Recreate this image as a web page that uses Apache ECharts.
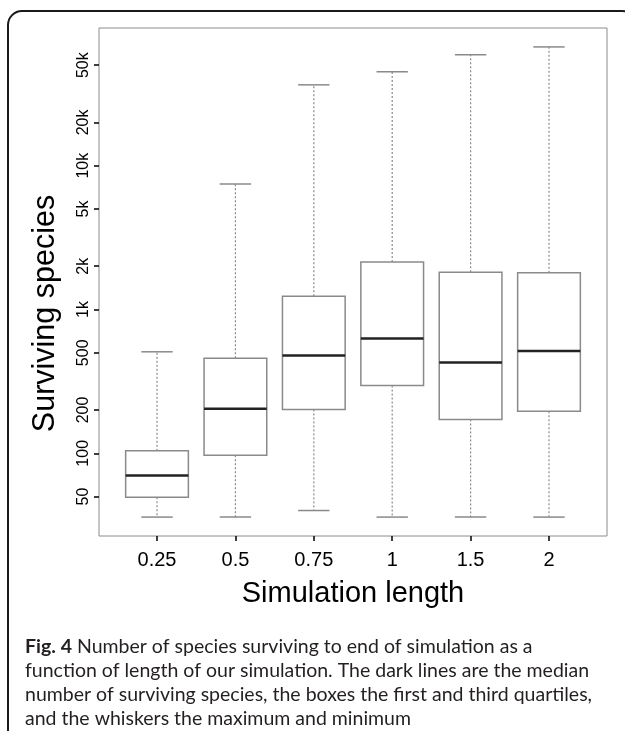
<!DOCTYPE html>
<html>
<head>
<meta charset="utf-8">
<script src="https://cdn.jsdelivr.net/npm/echarts@6/dist/echarts.min.js"></script>
<style>
html,body{margin:0;padding:0;background:#fff;}
#main{width:625px;height:731px;}
</style>
</head>
<body>
<div id="main"></div>
<script>
// ---- data ----
var categories = ['0.25', '0.5', '0.75', '1', '1.5', '2'];
var minValues    = [36, 36, 40, 36, 36, 36];
var q1Values     = [49.5, 97, 202, 296, 172, 196];
var medianValues = [70, 204, 479, 629, 428, 514];
var q3Values     = [104, 459, 1237, 2140, 1815, 1800];
var maxValues    = [508, 7460, 36500, 45000, 59000, 67000];
var yTickValues  = [50, 100, 200, 500, 1000, 2000, 5000, 10000, 20000, 50000];
var xTickValues  = [1, 2, 3, 4, 5, 6];

var captionLines = [
  '{b|Fig. 4} Number of species surviving to end of simulation as a',
  'function of length of our simulation. The dark lines are the median',
  'number of surviving species, the boxes the first and third quartiles,',
  'and the whiskers the maximum and minimum'
];

var seriesData = categories.map(function (c, i) {
  return [i + 1, minValues[i], q1Values[i], medianValues[i], q3Values[i], maxValues[i]];
});

function fmtY(v) {
  if (v >= 1000) return (v / 1000) + 'k';
  return String(v);
}

var chart = echarts.init(document.getElementById('main'), null, {renderer: 'canvas'});

var option = {
  backgroundColor: '#fff',
  animation: false,
  title: {
    text: captionLines.join('\n'),
    left: 20,
    top: 630,
    textStyle: {
      fontFamily: 'Lato',
      fontSize: 19.5,
      fontWeight: 'normal',
      color: '#231f20',
      lineHeight: 24,
      rich: {
        b: {fontFamily: 'Lato', fontSize: 19.5, fontWeight: 'bold', color: '#231f20', lineHeight: 24}
      }
    }
  },
  graphic: [{
    type: 'rect',
    shape: {x: 8, y: 11, width: 628, height: 800, r: 14},
    style: {fill: 'none', stroke: '#1a1a1a', lineWidth: 2},
    silent: true
  }],
  grid: {
    left: 99, right: 18, top: 28, bottom: 195,
    show: true, borderColor: '#8c8c8c', borderWidth: 1, backgroundColor: 'transparent'
  },
  xAxis: {
    type: 'value',
    min: 0.26, max: 6.74,
    name: 'Simulation length',
    nameLocation: 'middle',
    nameGap: 43,
    nameTextStyle: {fontFamily: 'Liberation Sans', fontSize: 29, color: '#000'},
    axisLine: {show: false},
    splitLine: {show: false},
    axisTick: {show: true, inside: false, length: 5, customValues: xTickValues, lineStyle: {color: '#000', width: 1.5}},
    axisLabel: {
      customValues: xTickValues,
      margin: 14,
      fontFamily: 'Liberation Sans', fontSize: 20, color: '#000',
      formatter: function (v) { return categories[Math.round(v) - 1]; }
    }
  },
  yAxis: {
    type: 'log',
    logBase: 10,
    min: 26.6, max: 90700,
    name: 'Surviving species',
    nameLocation: 'middle',
    nameGap: 37.5,
    nameRotate: 90,
    nameTextStyle: {fontFamily: 'Liberation Sans', fontSize: 30.5, color: '#000', padding: [0, 63, 0, 0]},
    axisLine: {show: false},
    splitLine: {show: false},
    axisTick: {show: true, inside: false, length: 5, customValues: yTickValues, lineStyle: {color: '#000', width: 1.5}},
    axisLabel: {
      customValues: yTickValues,
      rotate: 90,
      margin: 7,
      fontFamily: 'Liberation Sans', fontSize: 16, color: '#000',
      formatter: function (v) { return fmtY(v); }
    }
  },
  series: [{
    type: 'custom',
    data: seriesData,
    encode: {x: 0, y: [1, 2, 3, 4, 5]},
    clip: false,
    renderItem: function (params, api) {
      var x = api.value(0);
      var vMin = api.value(1), vQ1 = api.value(2), vMed = api.value(3), vQ3 = api.value(4), vMax = api.value(5);
      var left = api.coord([x - 0.4, vQ1]);
      var right = api.coord([x + 0.4, vQ3]);
      var cl = api.coord([x - 0.2, vMin])[0];
      var cr = api.coord([x + 0.2, vMin])[0];
      var cx = api.coord([x, vMin])[0];
      var yMin = api.coord([x, vMin])[1];
      var yQ1 = left[1];
      var yQ3 = right[1];
      var yMed = api.coord([x, vMed])[1];
      var yMax = api.coord([x, vMax])[1];
      var gray = '#8a8a8a';
      return {
        type: 'group',
        children: [
          {type: 'line', shape: {x1: cx, y1: yQ1, x2: cx, y2: yMin},
            style: {stroke: gray, lineWidth: 1.2, lineDash: [2, 2]}},
          {type: 'line', shape: {x1: cx, y1: yQ3, x2: cx, y2: yMax},
            style: {stroke: gray, lineWidth: 1.2, lineDash: [2, 2]}},
          {type: 'line', shape: {x1: cl, y1: yMin, x2: cr, y2: yMin},
            style: {stroke: gray, lineWidth: 1.5}},
          {type: 'line', shape: {x1: cl, y1: yMax, x2: cr, y2: yMax},
            style: {stroke: gray, lineWidth: 1.5}},
          {type: 'rect', shape: {x: left[0], y: yQ3, width: right[0] - left[0], height: yQ1 - yQ3},
            style: {fill: '#fff', stroke: gray, lineWidth: 1.5}},
          {type: 'line', shape: {x1: left[0], y1: yMed, x2: right[0], y2: yMed},
            style: {stroke: '#222', lineWidth: 2.5}}
        ]
      };
    }
  }]
};

chart.setOption(option);
</script>
</body>
</html>
